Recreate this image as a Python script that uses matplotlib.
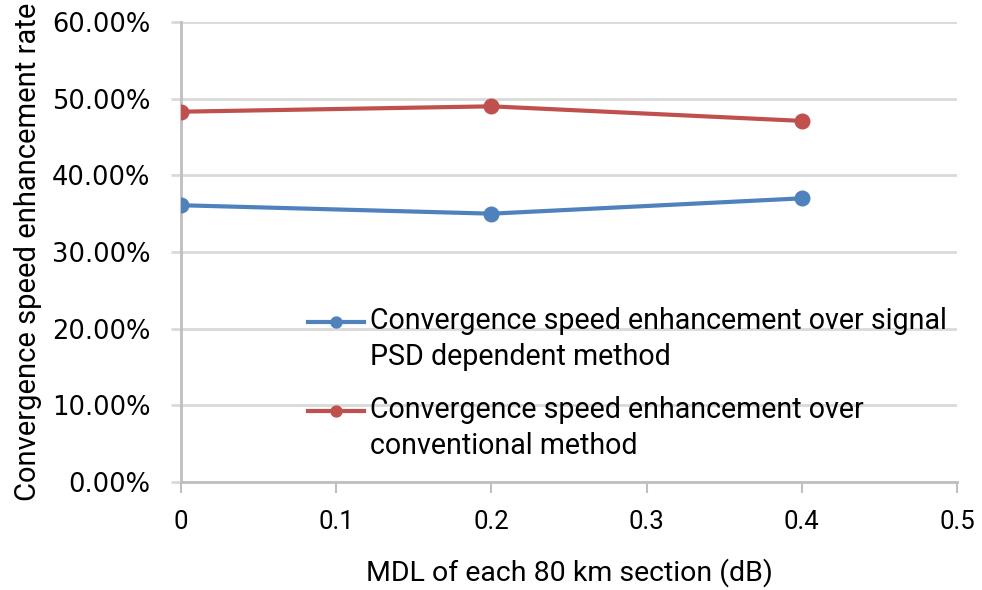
import matplotlib
matplotlib.use("Agg")
import matplotlib.pyplot as plt
from matplotlib.ticker import FuncFormatter
from matplotlib.legend_handler import HandlerLine2D

# MDL per 80 km section (dB) and enhancement rates (%)
mdl = [0.0, 0.2, 0.4]
over_psd = [36.1, 35.0, 37.0]
over_conv = [48.3, 49.0, 47.1]

labels = ["Convergence speed enhancement over signal\nPSD dependent method",
          "Convergence speed enhancement over\nconventional method"]

FONT = ["Roboto", "DejaVu Sans"]
BLUE, RED = "#4f81bd", "#c0504d"
GRID = "#d9d9d9"


class FirstLineHandler(HandlerLine2D):
    """Line handle sitting on the first line of a two-line label."""
    def create_artists(self, legend, orig_handle, xdescent, ydescent,
                       width, height, fontsize, trans):
        lift = 0.64 * fontsize
        return super().create_artists(legend, orig_handle, xdescent,
                                      ydescent - 2 * lift, width, height,
                                      fontsize, trans)


fig = plt.figure(figsize=(9.82, 5.90), dpi=100)
ax = fig.add_axes([181 / 982, 1 - 482 / 590, (957 - 181) / 982, (482 - 22) / 590])

ax.plot(mdl, over_psd, color=BLUE, lw=3, marker="o", ms=10.5, label=labels[0], zorder=3)
ax.plot(mdl, over_conv, color=RED, lw=3, marker="o", ms=10.5, label=labels[1], zorder=3)

ax.set_xlim(0, 0.5)
ax.set_ylim(0, 60)
ax.set_xticks([0, 0.1, 0.2, 0.3, 0.4, 0.5])
ax.set_xticklabels(["0", "0.1", "0.2", "0.3", "0.4", "0.5"])
ax.set_yticks(range(0, 61, 10))
ax.yaxis.set_major_formatter(FuncFormatter(lambda v, _: f"{v:.2f}%"))

ax.grid(axis="y", color=GRID, lw=2, zorder=0)
ax.set_axisbelow(True)
for s in ["top", "right"]:
    ax.spines[s].set_visible(False)
for s in ["left", "bottom"]:
    ax.spines[s].set_color("#bfbfbf")
    ax.spines[s].set_linewidth(2)
ax.tick_params(axis="x", length=8, width=1.5, color="#bfbfbf", pad=12,
               labelsize=18.5, labelfontfamily="Roboto")
ax.tick_params(axis="y", length=7, width=2, color=GRID, pad=15,
               labelsize=18.5, labelfontfamily="DejaVu Sans")

ax.set_xlabel("MDL of each 80 km section (dB)", family=FONT, fontsize=20.5)
ax.set_ylabel("Convergence speed enhancement rate", family=FONT, fontsize=21)
ax.xaxis.set_label_coords(0.5, -0.166)
ax.yaxis.set_label_coords(-0.179, 0.5)

leg = ax.legend(loc="upper left", bbox_to_anchor=(308 / 982, 1 - 307 / 590),
                bbox_transform=fig.transFigure, frameon=False,
                prop={"family": FONT, "size": 20.6}, handlelength=1.95,
                handletextpad=0.2, labelspacing=0.85, borderpad=0, borderaxespad=0,
                markerscale=0.75, handler_map={plt.Line2D: FirstLineHandler()})
for t in leg.get_texts():
    t.set_linespacing(1.38)

fig.savefig("out.png", dpi=100, facecolor="white")
